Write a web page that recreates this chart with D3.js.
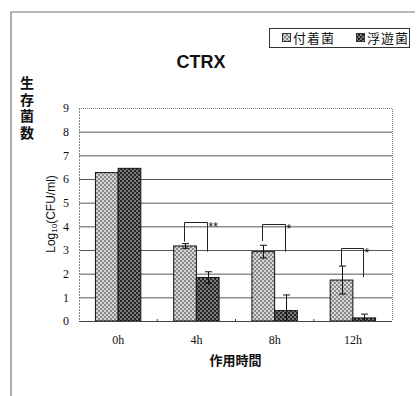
<!DOCTYPE html>
<html>
<head>
<meta charset="utf-8">
<script src="https://cdn.jsdelivr.net/npm/d3@7"></script>
<style>
  html, body { margin: 0; padding: 0; background: #fff; }
  svg { display: block; }
</style>
</head>
<body>
<svg id="chart" width="417" height="396"></svg>
<script>
// Viable counts (log10 CFU/ml) of attached vs. planktonic bacteria under CTRX
const categories = ["0h", "4h", "8h", "12h"];
const seriesNames = ["付着菌", "浮遊菌"];
const attachedMeans = [6.27, 3.17, 2.93, 1.73];
const attachedErrors = [null, 0.10, 0.27, 0.59];
const planktonicMeans = [6.45, 1.84, 0.44, 0.13];
const planktonicErrors = [null, 0.24, 0.66, 0.16];
const yTicks = [0, 1, 2, 3, 4, 5, 6, 7, 8, 9];
// significance brackets: bracket height and where each leg stops (log10 units)
const sigCategories = ["4h", "8h", "12h"];
const sigLabels = ["**", "*", "*"];
const sigTops = [4.17, 4.10, 3.07];
const sigLeftEnds = [3.35, 3.38, 2.32];
const sigRightEnds = [2.93, 2.93, 1.85];

const svg = d3.select("#chart");
const plot = { left: 79, right: 392, top: 108, bottom: 321 };

// Fill patterns for the two series
const defs = svg.append("defs");
function checker(id, a, b) {
  const p = defs.append("pattern").attr("id", id)
    .attr("patternUnits", "userSpaceOnUse").attr("width", 4).attr("height", 4);
  p.append("rect").attr("width", 4).attr("height", 4).attr("fill", a);
  p.append("rect").attr("width", 2).attr("height", 2).attr("fill", b);
  p.append("rect").attr("x", 2).attr("y", 2).attr("width", 2).attr("height", 2).attr("fill", b);
}
checker("pat-attached", "#d6d6d6", "#8a8a8a");
checker("pat-plank", "#7a7a7a", "#262626");
const fills = ["url(#pat-attached)", "url(#pat-plank)"];

// Outer frame (top and left edges)
svg.append("path").attr("d", "M11,396 V12 H415")
  .attr("fill", "none").attr("stroke", "#777").attr("stroke-width", 1.2);

// Scales
const x = d3.scaleBand().domain(categories)
  .range([plot.left, plot.right]).paddingInner(0.42).paddingOuter(0.21);
const xs = d3.scaleBand().domain(seriesNames).range([0, x.bandwidth()]);
const y = d3.scaleLinear().domain([0, 9]).range([plot.bottom, plot.top]);

// Gridlines
svg.append("g").selectAll("line").data(yTicks.filter(t => t > 0 && t < 9)).join("line")
  .attr("x1", plot.left).attr("x2", plot.right)
  .attr("y1", d => y(d) + 0.5).attr("y2", d => y(d) + 0.5)
  .attr("stroke", "#555").attr("stroke-width", 1);

// Plot-area border (dotted top and right)
svg.append("path")
  .attr("d", `M${plot.left},${y(9) + 0.5} H${plot.right + 0.5} V${plot.bottom}`)
  .attr("fill", "none").attr("stroke", "#777").attr("stroke-dasharray", "1,1");
svg.append("line").attr("x1", plot.left + 0.5).attr("x2", plot.left + 0.5)
  .attr("y1", y(9)).attr("y2", plot.bottom)
  .attr("stroke", "#888").attr("stroke-dasharray", "2,1");

// Y axis labels
const yAxis = d3.axisLeft(y).tickValues(yTicks).tickSize(0).tickPadding(10)
  .tickFormat(d3.format("d"));
const yg = svg.append("g").attr("transform", `translate(${plot.left},0)`).call(yAxis);
yg.select(".domain").remove();
yg.selectAll("text").attr("font-family", "Liberation Serif, serif")
  .attr("font-size", 12).attr("fill", "#111");

// Bars
const series = [
  { name: seriesNames[0], means: attachedMeans, errors: attachedErrors },
  { name: seriesNames[1], means: planktonicMeans, errors: planktonicErrors }
];
const barData = [];
series.forEach((s, si) => categories.forEach((c, ci) =>
  barData.push({ cat: c, s: s.name, si, v: s.means[ci], e: s.errors[ci] })));

svg.append("g").selectAll("rect").data(barData).join("rect")
  .attr("x", d => x(d.cat) + xs(d.s))
  .attr("y", d => y(d.v))
  .attr("width", xs.bandwidth())
  .attr("height", d => y(0) - y(d.v))
  .attr("fill", d => fills[d.si])
  .attr("stroke", "#111").attr("stroke-width", 1);

// Error bars
const cx = d => x(d.cat) + xs(d.s) + xs.bandwidth() / 2;
const eg = svg.append("g").attr("stroke", "#111").attr("stroke-width", 1);
barData.filter(d => d.e != null).forEach(d => {
  const c = Math.round(cx(d)) + 0.5;
  const hi = y(d.v + d.e), loV = d.v - d.e, lo = y(Math.max(0, loV));
  eg.append("line").attr("x1", c).attr("x2", c).attr("y1", hi).attr("y2", lo);
  eg.append("line").attr("x1", c - 3.5).attr("x2", c + 3.5).attr("y1", hi).attr("y2", hi);
  if (loV > 0) eg.append("line").attr("x1", c - 3.5).attr("x2", c + 3.5).attr("y1", lo).attr("y2", lo);
});

// X axis line and category-boundary ticks
svg.append("line").attr("x1", plot.left).attr("x2", plot.right)
  .attr("y1", plot.bottom + 0.5).attr("y2", plot.bottom + 0.5)
  .attr("stroke", "#444").attr("stroke-width", 1.2);
svg.append("g").selectAll("line").data(categories.slice(1)).join("line")
  .attr("x1", d => x(d) - x.step() * x.paddingInner() / 2)
  .attr("x2", d => x(d) - x.step() * x.paddingInner() / 2)
  .attr("y1", plot.bottom - 2).attr("y2", plot.bottom + 1)
  .attr("stroke", "#444");

const xAxis = d3.axisBottom(x).tickSize(0).tickPadding(14);
const xg = svg.append("g").attr("transform", `translate(0,${plot.bottom})`).call(xAxis);
xg.select(".domain").remove();
xg.selectAll("text").attr("font-family", "Liberation Serif, serif")
  .attr("font-size", 12).attr("fill", "#111");

// Significance brackets
const bg = svg.append("g").attr("stroke", "#222").attr("fill", "none").attr("stroke-width", 1);
sigCategories.forEach((c, i) => {
  const lx = Math.round(x(c) + xs(seriesNames[0]) + xs.bandwidth() / 2) - 0.5;
  const rx = Math.round(x(c) + xs(seriesNames[1]) + xs.bandwidth() / 2) - 0.5;
  const t = Math.round(y(sigTops[i])) + 0.5;
  bg.append("path")
    .attr("d", `M${lx},${y(sigLeftEnds[i])} V${t} H${rx} V${y(sigRightEnds[i])}`);
  svg.append("text").attr("x", rx + 1).attr("y", t + 8)
    .attr("font-family", "Liberation Sans, sans-serif").attr("font-size", 12)
    .attr("fill", "#111").text(sigLabels[i]);
});

// Title
svg.append("text").attr("x", 201).attr("y", 68).attr("text-anchor", "middle")
  .attr("font-family", "Liberation Sans, Arial, sans-serif").attr("font-weight", "bold")
  .attr("font-size", 18).attr("fill", "#111").text("CTRX");

// Y-axis titles: vertical Japanese label, then the rotated unit label
svg.append("text")
  .attr("x", 27).attr("y", 76)
  .style("writing-mode", "vertical-rl")
  .attr("font-family", "Noto Sans CJK JP, sans-serif").attr("font-weight", "bold")
  .attr("font-size", 14).attr("letter-spacing", 2.5).attr("fill", "#111")
  .text("生存菌数");

const unit = svg.append("text")
  .attr("transform", "translate(55,214) rotate(-90)").attr("text-anchor", "middle")
  .attr("font-family", "Liberation Sans, Arial, sans-serif").attr("font-size", 12)
  .attr("fill", "#111");
unit.append("tspan").text("Log");
unit.append("tspan").attr("font-size", 8).attr("dy", 2).text("10");
unit.append("tspan").attr("dy", -2).text("(CFU/ml)");

// X-axis title
svg.append("text").attr("x", 235.5).attr("y", 365).attr("text-anchor", "middle")
  .attr("font-family", "Noto Sans CJK JP, sans-serif").attr("font-weight", "bold")
  .attr("font-size", 13).attr("fill", "#111").text("作用時間");

// Legend
const lg = svg.append("g");
lg.append("rect").attr("x", 269.5).attr("y", 28.5).attr("width", 140).attr("height", 19)
  .attr("fill", "#fff").attr("stroke", "#333");
const legX = [282, 356];
seriesNames.forEach((n, i) => {
  lg.append("rect").attr("x", legX[i] + 0.5).attr("y", 33.5).attr("width", 8).attr("height", 8)
    .attr("fill", fills[i]).attr("stroke", "#333");
  lg.append("text").attr("x", legX[i] + 11).attr("y", 43)
    .attr("font-family", "Noto Sans CJK JP, sans-serif").attr("font-size", 13)
    .attr("letter-spacing", 1).attr("fill", "#111").text(n);
});
</script>
</body>
</html>
